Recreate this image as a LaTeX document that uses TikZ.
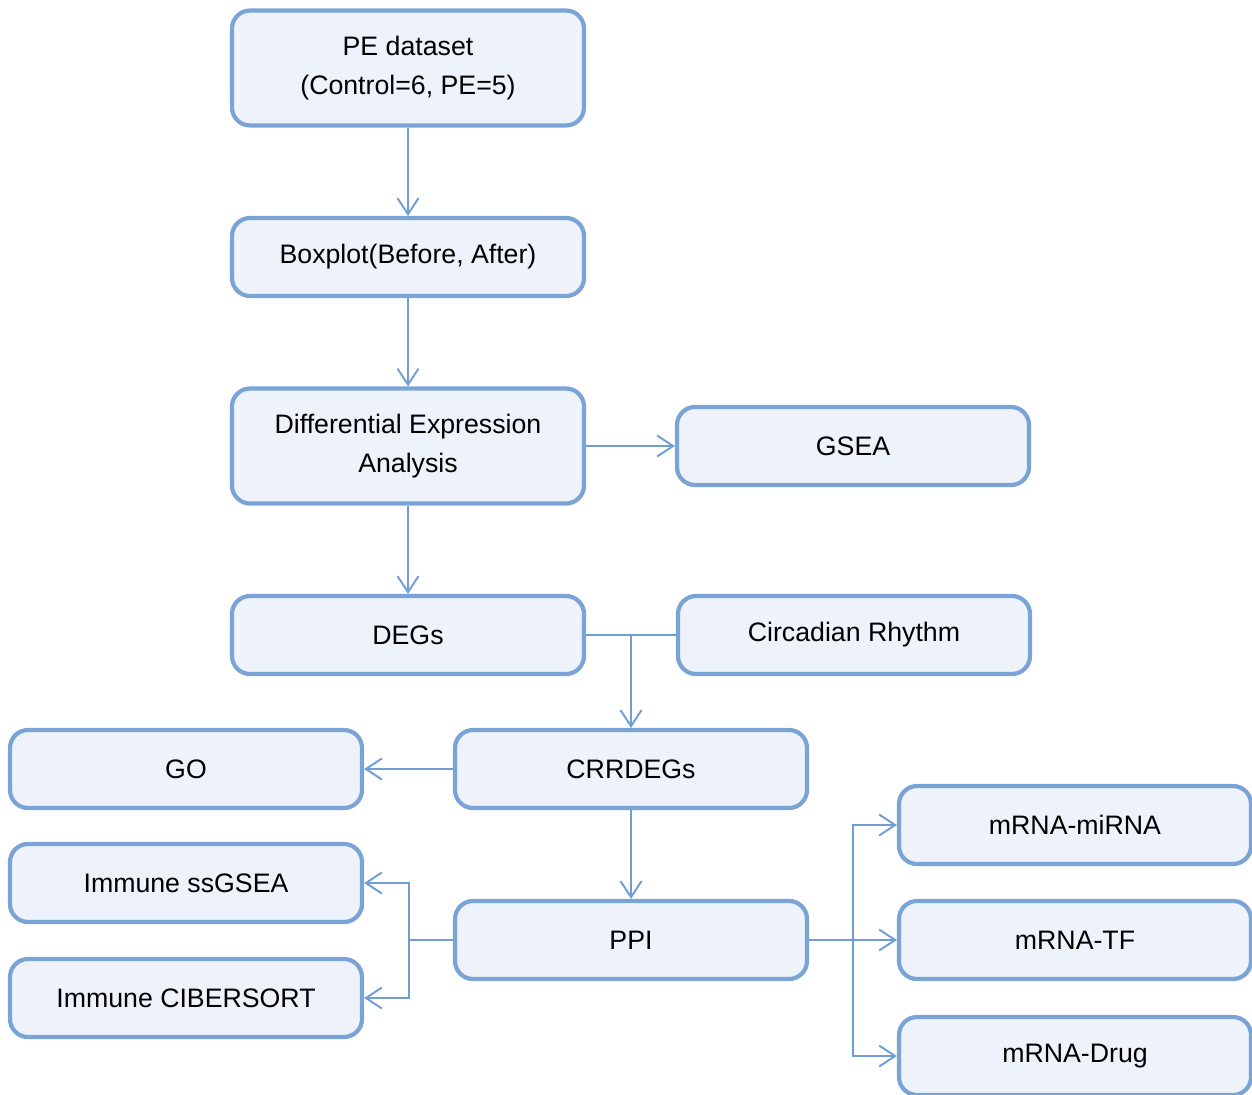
\documentclass[tikz,border=0pt]{standalone}
\usepackage{fontspec}
\setmainfont{Liberation Sans}
\usetikzlibrary{arrows.meta}
\definecolor{boxfill}{HTML}{EEF3FB}
\definecolor{boxline}{HTML}{7BA4D6}
\definecolor{arrline}{HTML}{6F9DD4}
\begin{document}
\begin{tikzpicture}[
    flowbox/.style={draw=boxline,
        fill=boxfill,
        line width=2.4pt,
        rounded corners=0.36cm,
        minimum width=7.04cm,
        minimum height=1.56cm,
        align=center,
        font=\fontsize{15.2}{22.4}\selectfont},
    tallbox/.style={flowbox,
        minimum height=2.3cm},
    arr/.style={draw=arrline,
        line width=1.1pt,
        -{Straight Barb[length=0.32cm,width=0.42cm,line width=1.1pt]}},
    link/.style={draw=arrline,
        line width=1.1pt}]
\useasboundingbox (0,0) rectangle (25.04,-21.88);
% main column
\node [tallbox] (pe) at (8.16,-1.36) {PE dataset\\(Control=6, PE=5)};
\node [flowbox] (boxplot) at (8.16,-5.14) {Boxplot(Before, After)};
\node [tallbox] (dea) at (8.16,-8.92) {Differential Expression\\Analysis};
\node [flowbox] (gsea) at (17.06,-8.92) {GSEA};
\node [flowbox] (degs) at (8.16,-12.70) {DEGs};
\node [flowbox] (circ) at (17.08,-12.70) {Circadian Rhythm};

% second level
\node [flowbox] (go) at (3.72,-15.38) {GO};
\node [flowbox] (crr) at (12.62,-15.38) {CRRDEGs};
\node [flowbox] (ppi) at (12.62,-18.80) {PPI};

% immune
\node [flowbox] (ssgsea) at (3.72,-17.66) {Immune ssGSEA};
\node [flowbox] (ciber) at (3.72,-19.96) {Immune CIBERSORT};

% networks
\node [flowbox] (mirna) at (21.50,-16.50) {mRNA-miRNA};
\node [flowbox] (tf) at (21.50,-18.80) {mRNA-TF};
\node [flowbox] (drug) at (21.50,-21.12) {mRNA-Drug};

% junctions
\coordinate (jl) at (8.18,-18.80);
\coordinate (jr) at (17.06,-18.80);

\draw [arr] (pe) -- (boxplot);
\draw [arr] (boxplot) -- (dea);
\draw [arr] (dea) -- (degs);
\draw [arr] (dea) -- (gsea);
\draw [link] (degs) -- (circ);
\draw [arr] (degs.east -| crr) -- (crr);
\draw [arr] (crr) -- (go);
\draw [arr] (crr) -- (ppi);
\draw [link] (ppi) -- (jl);
\draw [arr] (jl) |- (ssgsea);
\draw [arr] (jl) |- (ciber);
\draw [arr] (ppi) -- (tf);
\draw [arr] (jr) |- (mirna);
\draw [arr] (jr) |- (drug);
\end{tikzpicture}
\end{document}
